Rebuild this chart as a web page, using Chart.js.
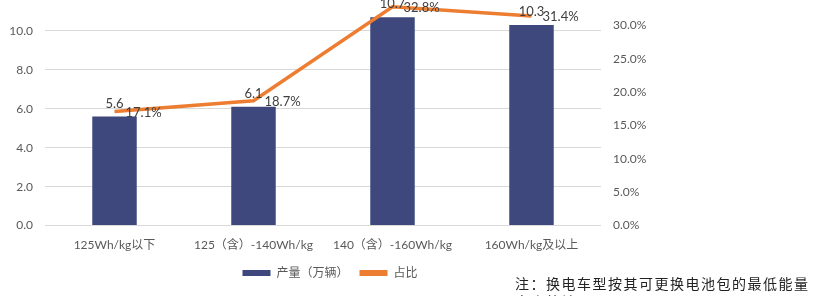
<!DOCTYPE html>
<html>
<head>
<meta charset="utf-8">
<script src="https://cdn.jsdelivr.net/npm/chart.js@4.4.0/dist/chart.umd.min.js"></script>
<style>
  html, body { margin: 0; padding: 0; background: #fff; }
  #wrap { position: relative; width: 815px; height: 296px; overflow: hidden; }
  #box { position: absolute; left: 0; top: -42px; width: 660px; height: 333px; }
  #note { position: absolute; left: 515px; top: 274px; font-family: "Noto Sans CJK SC", sans-serif;
          font-size: 14px; letter-spacing: 1.5px; line-height: 18px; color: #222; white-space: nowrap; }
</style>
</head>
<body>
<div id="wrap">
  <div id="box"><canvas id="c"></canvas></div>
  <div id="note">注：换电车型按其可更换电池包的最低能量<br>密度统计</div>
</div>
<script>
const categories = ['125Wh/kg以下', '125（含）-140Wh/kg', '140（含）-160Wh/kg', '160Wh/kg及以上'];
const production = [5.6, 6.1, 10.7, 10.3];
const share = [17.1, 18.7, 32.8, 31.4];
const seriesNames = ['产量（万辆）', '占比'];

const FONT = "Lato, 'Noto Sans CJK SC', sans-serif";

const labelPlugin = {
  id: 'valueLabels',
  afterDatasetsDraw(chart) {
    const ctx = chart.ctx;
    ctx.save();
    ctx.font = "13px " + FONT;
    ctx.fillStyle = '#404040';
    const barMeta = chart.getDatasetMeta(0);
    barMeta.data.forEach((el, i) => {
      ctx.textAlign = 'center';
      ctx.textBaseline = 'middle';
      ctx.fillText(production[i].toFixed(1), el.x, el.y - 13);
    });
    const lineMeta = chart.getDatasetMeta(1);
    lineMeta.data.forEach((el, i) => {
      ctx.textAlign = 'left';
      ctx.textBaseline = 'middle';
      ctx.fillText(share[i].toFixed(1) + '%', el.x + 11, el.y + 1);
    });
    ctx.restore();
  }
};

new Chart(document.getElementById('c'), {
  data: {
    labels: categories,
    datasets: [
      {
        type: 'bar',
        label: seriesNames[0],
        data: production,
        backgroundColor: '#3E487C',
        yAxisID: 'y',
        order: 1,
        barPercentage: 0.8,
        categoryPercentage: 0.4
      },
      {
        type: 'line',
        label: seriesNames[1],
        data: share,
        borderColor: '#ED7D31',
        backgroundColor: '#ED7D31',
        borderWidth: 3.5,
        pointRadius: 0,
        tension: 0,
        yAxisID: 'y1',
        order: 0
      }
    ]
  },
  options: {
    responsive: true,
    maintainAspectRatio: false,
    animation: false,
    layout: { padding: { top: 34, bottom: 2, left: 0, right: 0 } },
    plugins: {
      tooltip: { enabled: false },
      legend: {
        position: 'bottom',
        labels: {
          sort: (a, b) => a.datasetIndex - b.datasetIndex,
          boxWidth: 28,
          boxHeight: 6,
          padding: 11,
          color: '#595959',
          font: { family: FONT, size: 12 },
          generateLabels(chart) {
            return chart.data.datasets.map((ds, i) => ({
              text: ds.label,
              fillStyle: ds.type === 'bar' ? ds.backgroundColor : ds.borderColor,
              strokeStyle: ds.type === 'bar' ? ds.backgroundColor : ds.borderColor,
              lineWidth: 0,
              fontColor: '#595959',
              hidden: false,
              datasetIndex: i
            }));
          }
        }
      }
    },
    scales: {
      x: {
        grid: { display: false },
        border: { display: false },
        ticks: { color: '#595959', font: { family: FONT, size: 12 }, padding: 4, maxRotation: 0, autoSkip: false }
      },
      y: {
        position: 'left',
        min: 0, max: 12,
        ticks: { stepSize: 2, color: '#595959', font: { family: FONT, size: 12 }, padding: 12,
                 callback: v => Number(v).toFixed(1) },
        grid: { color: '#D9D9D9', drawTicks: false, lineWidth: 1 },
        border: { display: false },
        afterFit(scale) { scale.width = 45; }
      },
      y1: {
        position: 'right',
        min: 0, max: 35,
        ticks: { stepSize: 5, color: '#595959', font: { family: FONT, size: 12 }, padding: 12,
                 callback: v => Number(v).toFixed(1) + '%' },
        grid: { drawOnChartArea: false, drawTicks: false },
        border: { display: false },
        afterFit(scale) { scale.width = 59; }
      }
    }
  },
  plugins: [labelPlugin]
});
</script>
</body>
</html>
